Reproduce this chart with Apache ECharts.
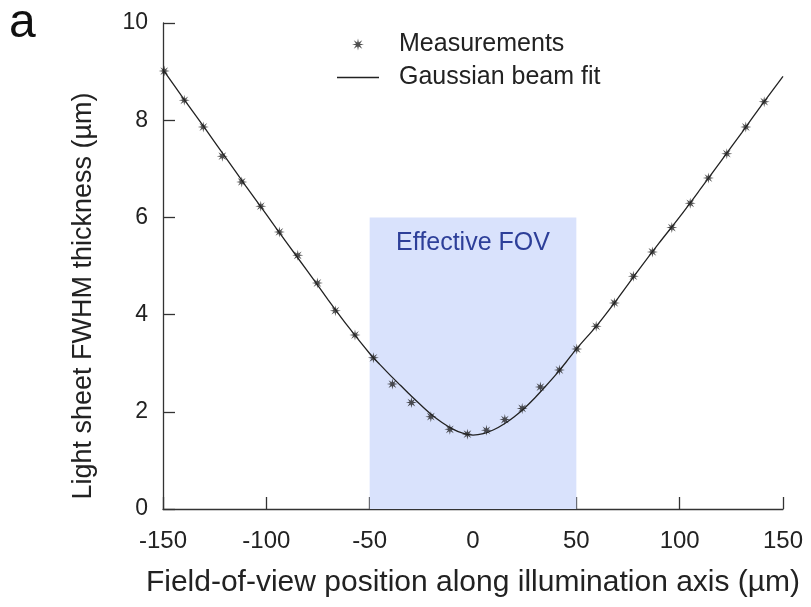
<!DOCTYPE html>
<html>
<head>
<meta charset="utf-8">
<script src="https://cdn.jsdelivr.net/npm/echarts@6/dist/echarts.min.js"></script>
<style>
  html, body { margin: 0; padding: 0; background: #fff; }
  #chart { width: 811px; height: 607px; }
</style>
</head>
<body>
<div id="chart"></div>
<script>
// measured light sheet thickness (µm) vs position (µm)
const measX = [-149.4, -139.7, -130.5, -121.3, -111.9, -102.7, -93.7, -84.8, -75.3, -66.6, -57.1, -48.2,
  -39.0, -29.8, -20.4, -11.2, -2.7, 6.5, 15.4, 23.8, 32.6, 41.8, 50.2, 59.6, 68.4, 77.6, 86.8,
  96.2, 105.1, 113.9, 122.8, 132.0, 140.9];
const measY = [9.01, 8.41, 7.86, 7.26, 6.73, 6.23, 5.70, 5.22, 4.65, 4.08, 3.58, 3.11,
  2.57, 2.19, 1.90, 1.64, 1.54, 1.62, 1.84, 2.07, 2.51, 2.86, 3.29, 3.76, 4.24, 4.79, 5.29,
  5.79, 6.29, 6.81, 7.31, 7.86, 8.38];

// gaussian beam fit
const fitX = [-150, -140, -130, -120, -110, -100, -90, -80, -70, -60, -50, -45, -40, -35, -30, -25, -20, -15, -10, -5,
  0, 5, 10, 15, 20, 25, 30, 35, 40, 45, 50, 60, 70, 80, 90, 100, 110, 120, 130, 140, 150];
const fitY = [9.04, 8.44, 7.85, 7.25, 6.65, 6.06, 5.47, 4.89, 4.30, 3.73, 3.20, 2.97, 2.75, 2.54, 2.33, 2.13, 1.94, 1.78, 1.65, 1.56,
  1.52, 1.55, 1.63, 1.75, 1.90, 2.08, 2.29, 2.52, 2.76, 3.02, 3.29, 3.78, 4.33, 4.91, 5.47, 6.01, 6.58, 7.16, 7.74, 8.33, 8.90];

const fovRange = [-50, 50];
const fovTop = 6;

const xTicks = { min: -150, max: 150, step: 50 };
const yTicks = { min: 0, max: 10, step: 2 };

// asterisk-like symbol
function asteriskPath() {
  let d = '';
  for (let k = 0; k < 16; k++) {
    const a = k * Math.PI / 8;
    const r = k % 2 === 0 ? 10 : 3.6;
    const px = (10 + r * Math.sin(a)).toFixed(2);
    const py = (10 - r * Math.cos(a)).toFixed(2);
    d += (k === 0 ? 'M' : 'L') + px + ' ' + py + ' ';
  }
  return 'path://' + d + 'Z';
}
const star = asteriskPath();

const font = '"Liberation Sans", Arial, sans-serif';
const ink = '#222';

const chart = echarts.init(document.getElementById('chart'));

const option = {
  animation: false,
  backgroundColor: '#fff',
  textStyle: { fontFamily: font },
  grid: { left: 163, right: 28, top: 23, bottom: 98 },
  graphic: [{
    type: 'text', left: 9, top: 0,
    style: { text: 'a', font: '48px ' + font, fill: '#111' }
  }],
  legend: {
    orient: 'vertical',
    left: 332, top: 27,
    itemWidth: 42, itemHeight: 12, itemGap: 8,
    textStyle: { fontSize: 25, color: ink, fontFamily: font, padding: [0, 0, 0, 15] },
    data: [
      { name: 'Measurements', icon: star, itemStyle: { color: ink } },
      { name: 'Gaussian beam fit', icon: 'path://M0 0 H42 V1.3 H0 Z', itemStyle: { color: ink } }
    ]
  },
  xAxis: {
    type: 'value',
    min: xTicks.min, max: xTicks.max, interval: xTicks.step,
    name: 'Field-of-view position along illumination axis (µm)',
    nameLocation: 'middle', nameGap: 59,
    nameTextStyle: { fontSize: 30, color: ink, fontFamily: font },
    axisLine: { lineStyle: { color: '#333', width: 1.3 } },
    axisTick: { inside: true, length: 12, lineStyle: { color: '#333', width: 1.3 } },
    axisLabel: { fontSize: 24, color: ink, margin: 20, fontFamily: font },
    splitLine: { show: false }
  },
  yAxis: {
    type: 'value',
    min: yTicks.min, max: yTicks.max, interval: yTicks.step,
    name: 'Light sheet FWHM thickness (µm)',
    nameLocation: 'middle', nameGap: 66,
    nameTextStyle: { fontSize: 27, color: ink, fontFamily: font, padding: [0, 60, 0, 0] },
    axisLine: { show: true, onZero: false, lineStyle: { color: '#333', width: 1.3 } },
    axisTick: { show: true, inside: true, length: 12, lineStyle: { color: '#333', width: 1.3 } },
    axisLabel: { fontSize: 23, color: ink, margin: 15, fontFamily: font },
    splitLine: { show: false }
  },
  series: [
    {
      name: 'fov',
      type: 'line',
      data: [],
      z: 1,
      silent: true,
      markArea: {
        silent: true,
        itemStyle: { color: '#d9e2fc' },
        label: {
          show: true, position: 'insideTop', distance: 13,
          color: '#2d3f99', fontSize: 25, fontFamily: font
        },
        data: [[
          { name: 'Effective FOV', xAxis: fovRange[0], yAxis: 0 },
          { xAxis: fovRange[1], yAxis: fovTop }
        ]]
      }
    },
    {
      name: 'Gaussian beam fit',
      type: 'line',
      z: 3,
      smooth: 0.3,
      symbol: 'none',
      lineStyle: { color: ink, width: 1.3 },
      itemStyle: { color: ink },
      data: fitX.map((x, i) => [x, fitY[i]])
    },
    {
      name: 'Measurements',
      type: 'scatter',
      z: 4,
      symbol: star,
      symbolSize: 11,
      itemStyle: { color: ink },
      data: measX.map((x, i) => [x, measY[i]])
    }
  ]
};

chart.setOption(option);
</script>
</body>
</html>
